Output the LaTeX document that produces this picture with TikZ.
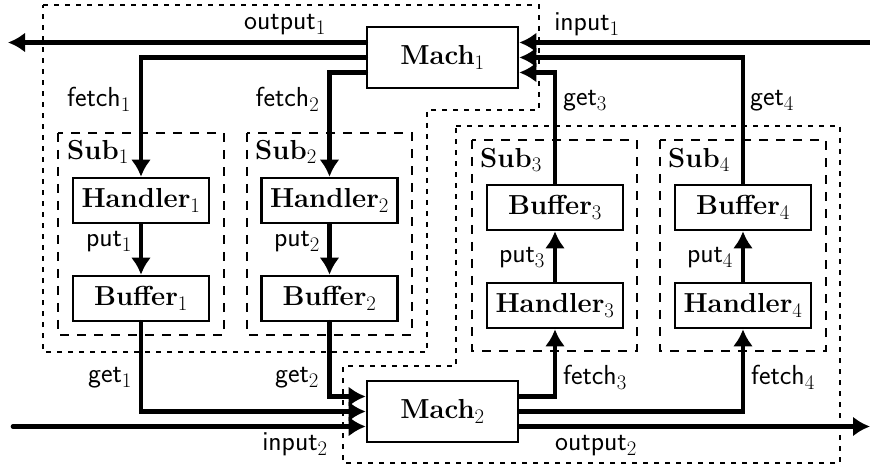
\documentclass[tikz,border=0pt]{standalone}
\usetikzlibrary{arrows.meta}
\newcommand{\fsz}{\fontsize{27.5}{32}\selectfont}
\begin{document}
\begin{tikzpicture}[x=1pt,y=-1pt,
  box/.style={draw,line width=2.6pt,minimum width=136pt,minimum height=45pt,inner sep=0pt,font=\fsz\bfseries},
  mach/.style={box,minimum width=151pt,minimum height=61pt},
  subbox/.style={draw,line width=2.4pt,dash pattern=on 9pt off 8pt},
  region/.style={draw,line width=2.6pt,dash pattern=on 5pt off 6pt},
  conn/.style={line width=4.6pt,line cap=round,-{Latex[length=17pt,width=20pt]}},
  lbl/.style={font=\fsz\sffamily,inner sep=0pt},
  sublbl/.style={font=\fsz\bfseries,inner sep=0pt,anchor=west},
]
\useasboundingbox (0,0) rectangle (870,470);
% regions
\draw[region] (43,5) -- (539,5) -- (539,110) -- (427,110) -- (427,352) -- (43,352) -- cycle;
\draw[region] (456,126) -- (840,126) -- (840,463) -- (343,463) -- (343,366) -- (456,366) -- cycle;
% sub boxes
\draw[subbox] (58,133) rectangle (224,335);
\draw[subbox] (247,133) rectangle (412,335);
\draw[subbox] (472,140) rectangle (637,351);
\draw[subbox] (660,140) rectangle (826,351);
\node[sublbl] (S1) at (67,152) {Sub$_1$};
\node[sublbl] (S2) at (255,152) {Sub$_2$};
\node[sublbl] (S3) at (480,160) {Sub$_3$};
\node[sublbl] (S4) at (668,160) {Sub$_4$};
% nodes
\node[mach] (M1) at (442.5,57.5) {Mach$_1$};
\node[mach] (M2) at (442.5,411.5) {Mach$_2$};
\node[box] (H1) at (141,200.5) {Handler$_1$};
\node[box] (B1) at (141,298.5) {Buffer$_1$};
\node[box] (H2) at (329.5,200.5) {Handler$_2$};
\node[box] (B2) at (329.5,298.5) {Buffer$_2$};
\node[box] (B3) at (555,207.5) {Buffer$_3$};
\node[box] (H3) at (555,305.5) {Handler$_3$};
\node[box] (B4) at (743,207.5) {Buffer$_4$};
\node[box] (H4) at (743,305.5) {Handler$_4$};
% free ends
\coordinate (o1) at (8,42.5);
\coordinate (i1) at (874,42.5);
\coordinate (i2) at (13,426.5);
\coordinate (o2) at (870,426.5);
% connectors
\draw[conn] ([yshift=15pt]M1.west) -- (o1);
\draw[conn] (M1.west) -| (H1.north);
\draw[conn] ([yshift=-15pt]M1.west) -| (H2.north);
\draw[conn] (i1) -- ([yshift=15pt]M1.east);
\draw[conn] (B4.north) |- (M1.east);
\draw[conn] (B3.north) |- ([yshift=-15pt]M1.east);
\draw[conn] (H1.south) -- (B1.north);
\draw[conn] (H2.south) -- (B2.north);
\draw[conn] (H3.north) -- (B3.south);
\draw[conn] (H4.north) -- (B4.south);
\draw[conn] (B1.south) |- (M2.west);
\draw[conn] (B2.south) |- ([yshift=15pt]M2.west);
\draw[conn] (i2) -- ([yshift=-15pt]M2.west);
\draw[conn] ([yshift=15pt]M2.east) -| (H3.south);
\draw[conn] (M2.east) -| (H4.south);
\draw[conn] ([yshift=-15pt]M2.east) -- (o2);
% labels
\node[lbl] (lo1) at (285,25) {output$_1$};
\node[lbl] (li1) at (587,24) {input$_1$};
\node[lbl] (lf1) at (99,99) {fetch$_1$};
\node[lbl] (lf2) at (287.5,99) {fetch$_2$};
\node[lbl] (lg3) at (585,101) {get$_3$};
\node[lbl] (lg4) at (772,101) {get$_4$};
\node[lbl] (lp1) at (109,242) {put$_1$};
\node[lbl] (lp2) at (297,242) {put$_2$};
\node[lbl] (lp3) at (522,258) {put$_3$};
\node[lbl] (lp4) at (710,258) {put$_4$};
\node[lbl] (lg1) at (110,378) {get$_1$};
\node[lbl] (lg2) at (297,378) {get$_2$};
\node[lbl] (lf3) at (595,377) {fetch$_3$};
\node[lbl] (lf4) at (783,377) {fetch$_4$};
\node[lbl] (li2) at (295,444) {input$_2$};
\node[lbl] (lo2) at (596,446) {output$_2$};
\end{tikzpicture}
\end{document}
